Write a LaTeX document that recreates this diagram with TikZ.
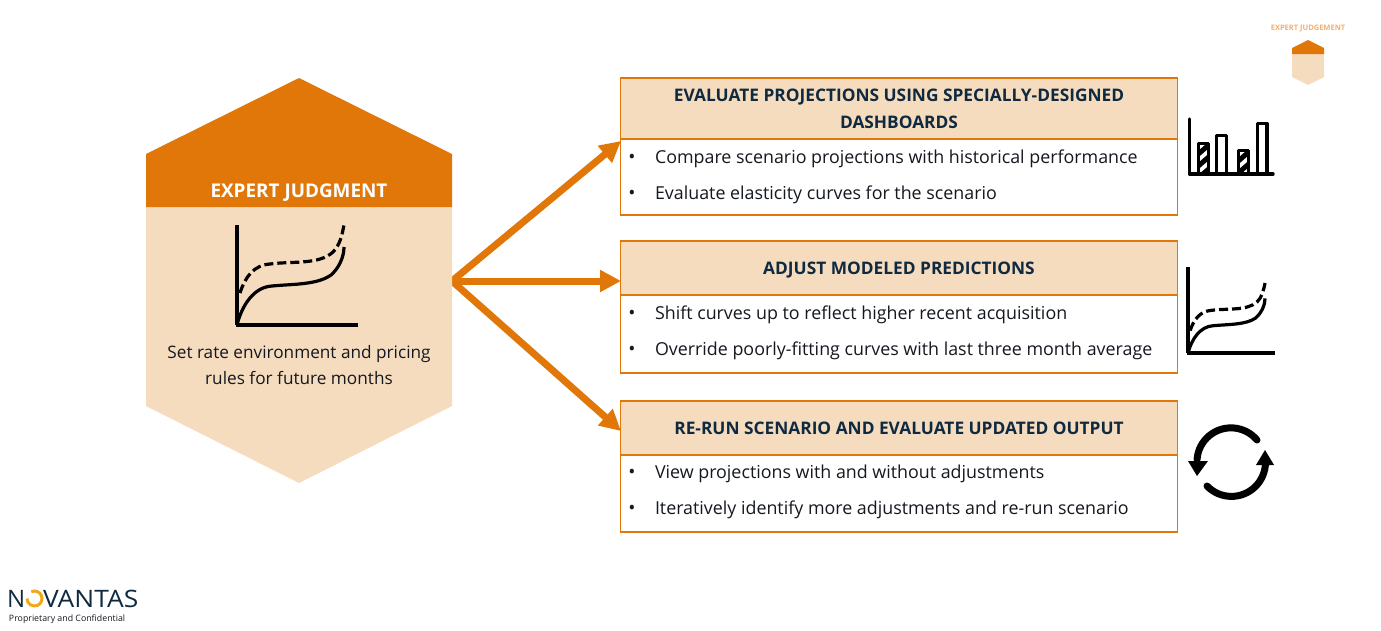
\documentclass[tikz,border=0pt]{standalone}
\usepackage{fontspec}
\setmainfont{Open Sans}
\usetikzlibrary{arrows.meta}
\definecolor{orng}{HTML}{E07708}
\definecolor{peach}{HTML}{F5DCBE}
\definecolor{navy}{HTML}{0F2A40}
\definecolor{ink}{HTML}{14181F}
\definecolor{gold}{HTML}{F0A818}
\definecolor{lightorng}{HTML}{F4AE6E}
\tikzset{
  x=1pt,y=-1pt,
  every node/.style={inner sep=0pt,outer sep=0pt},
  headbox/.style={draw=orng,line width=1.3pt,fill=peach,minimum width=557pt,anchor=north west,align=center,text=navy,font=\fontsize{17.3}{27}\selectfont\bfseries},
  bodybox/.style={draw=orng,line width=1.3pt,fill=white,minimum width=557pt,anchor=north west},
  bodytext/.style={anchor=base west,text=ink,font=\fontsize{17.85}{22}\selectfont},
  bullettext/.style={anchor=base,text=ink,font=\fontsize{19}{22}\selectfont},
  bigarrow/.style={draw=orng,line width=7pt,-{Triangle[length=21pt,width=21pt]}},
  iconline/.style={draw=black,line width=3.4pt,line cap=round,line join=round},
}
\newcommand{\curveicon}[5]{%
  \begin{scope}[shift={(#1,#2)},xscale=#3,yscale=#4]
    \draw[draw=black,line width=3.2pt] (0,#5) -- (0,100);
    \draw[draw=black,line width=3.2pt] (-1.5,100) -- (121,100);
    \draw[draw=black,line width=3.2pt] (0,100) .. controls (5,80) and (17,62) .. (35,61)
      .. controls (55,59) and (80,60) .. (94,50) .. controls (102,43) and (107,32) .. (107,22);
    \draw[draw=black,line width=3.2pt,dash pattern=on 9pt off 4pt] (3,68) .. controls (8,52) and (17,40) .. (33,39)
      .. controls (55,36) and (82,40) .. (96,27) .. controls (103,20) and (105,10) .. (107,0);
  \end{scope}}
\begin{document}
\begin{tikzpicture}
\useasboundingbox (0,0) rectangle (1381,630);
% arrows
\coordinate (hub) at (452,281);
\coordinate (t1) at (621,141);
\coordinate (t2) at (621,281);
\coordinate (t3) at (621,431);
\draw[bigarrow] (hub) -- (t1);
\draw[bigarrow] (hub) -- (t2);
\draw[bigarrow] (hub) -- (t3);
% main hexagon
\fill[peach] (146,207) -- (452,207) -- (452,406) -- (299,483) -- (146,406) -- cycle;
\fill[orng] (299,78) -- (452,154) -- (452,207) -- (146,207) -- (146,154) -- cycle;
\node (title) at (299,191) [text=white,font=\fontsize{18.9}{22}\selectfont\bfseries] {EXPERT \smash{J}UD\smash{G}MENT};
\curveicon{237}{225}{1}{1}{0}
\node (desc) at (299,365) [align=center,text=ink,font=\fontsize{17.2}{26}\selectfont] {Set rate environment and pricing\\rules for future months};
% box 1
\node (h1) at (620.5,78) [headbox,minimum height=61pt] {EVALUATE PROJECTIONS USING SPECIALLY-DESIGNED\\DASHBOARDS};
\node (b1) at (620.5,139) [bodybox,minimum height=76pt] {};
\node (b11d) at (632,163.5) [bullettext] {•};
\node (b11) at (655,163) [bodytext] {Compare scenario projections with historical performance};
\node (b12d) at (632,199.5) [bullettext] {•};
\node (b12) at (655,199) [bodytext] {Evaluate elasticity curves for the scenario};
% box 2
\node (h2) at (620.5,241) [headbox,minimum height=54pt] {A\smash{DJ}UST MODELED PREDICTIONS};
\node (b2) at (620.5,295) [bodybox,minimum height=78pt] {};
\node (b21d) at (632,319.5) [bullettext] {•};
\node (b21) at (655,319) [bodytext] {Shift curves up to reflect higher recent acquisition};
\node (b22d) at (632,355.5) [bullettext] {•};
\node (b22) at (655,355) [bodytext] {Override poorly-fitting curves with last three month average};
% box 3
\node (h3) at (620.5,401) [headbox,minimum height=54pt] {RE-RUN SCENARIO AND EVALUATE UPDATED OUTPUT};
\node (b3) at (620.5,455) [bodybox,minimum height=77pt] {};
\node (b31d) at (632,478.5) [bullettext] {•};
\node (b31) at (655,478) [bodytext] {View projections with and without adjustments};
\node (b32d) at (632,514.5) [bullettext] {•};
\node (b32) at (655,514) [bodytext] {Iteratively identify more adjustments and re-run scenario};
% bar icon
\begin{scope}
  \clip (1198.5,142) rectangle (1208.5,174);
  \foreach \d in {0,12,24} \draw[black,line width=5pt] (1196,156+\d) -- (1211,143+\d);
\end{scope}
\begin{scope}
  \clip (1238.5,149) rectangle (1248.5,174);
  \foreach \d in {0,12} \draw[black,line width=5pt] (1236,163+\d) -- (1251,150+\d);
\end{scope}
\draw[iconline] (1189.5,119) -- (1189.5,174) -- (1273,174);
\foreach \xa/\xb/\yt in {1198.5/1208.5/143.5,1216.5/1226.5/135.5,1238.5/1248.5/150.5,1257.5/1267/123.5}
  \draw[iconline] (\xa,174) -- (\xa,\yt) -- (\xb,\yt) -- (\xb,174);
% curve icon 2
\curveicon{1188}{283}{0.72}{0.7}{-23}
% cycle icon
\draw[black,line width=7pt,line cap=round] (1257,440) arc[start angle=-40,end angle=-176,radius=34];
\fill[black] (1188,461) -- (1208,461) -- (1197,476) -- cycle;
\draw[black,line width=7pt,line cap=round] (1207,486) arc[start angle=136,end angle=0,radius=34];
\fill[black] (1256,465) -- (1274,465) -- (1265,450) -- cycle;
% mini hexagon
\node (mini) at (1308,28) [text=lightorng,font=\fontsize{7.5}{10}\selectfont\bfseries] {EXPERT \smash{J}UD\smash{G}EMENT};
\fill[peach] (1292,54) -- (1324,54) -- (1324,77) -- (1308,85) -- (1292,77) -- cycle;
\fill[orng] (1308,40) -- (1324,48) -- (1324,54) -- (1292,54) -- (1292,48) -- cycle;
% logo
\node (logoN) at (7,607) [anchor=base west,text=navy,font=\fontsize{24}{28}\selectfont] {N};
\draw[gold,line width=3pt] (34.5,598.5) ++(-115:7.5) arc[start angle=-115,end angle=180,radius=7.5];
\node (logoR) at (43,607) [anchor=base west,xscale=1.1,transform shape,text=navy,font=\fontsize{24}{28}\selectfont] {VANTAS};
\node (conf) at (9,619) [anchor=west,text=ink,font=\fontsize{8.8}{10}\selectfont] {Proprietary and Confidential};
\end{tikzpicture}
\end{document}
